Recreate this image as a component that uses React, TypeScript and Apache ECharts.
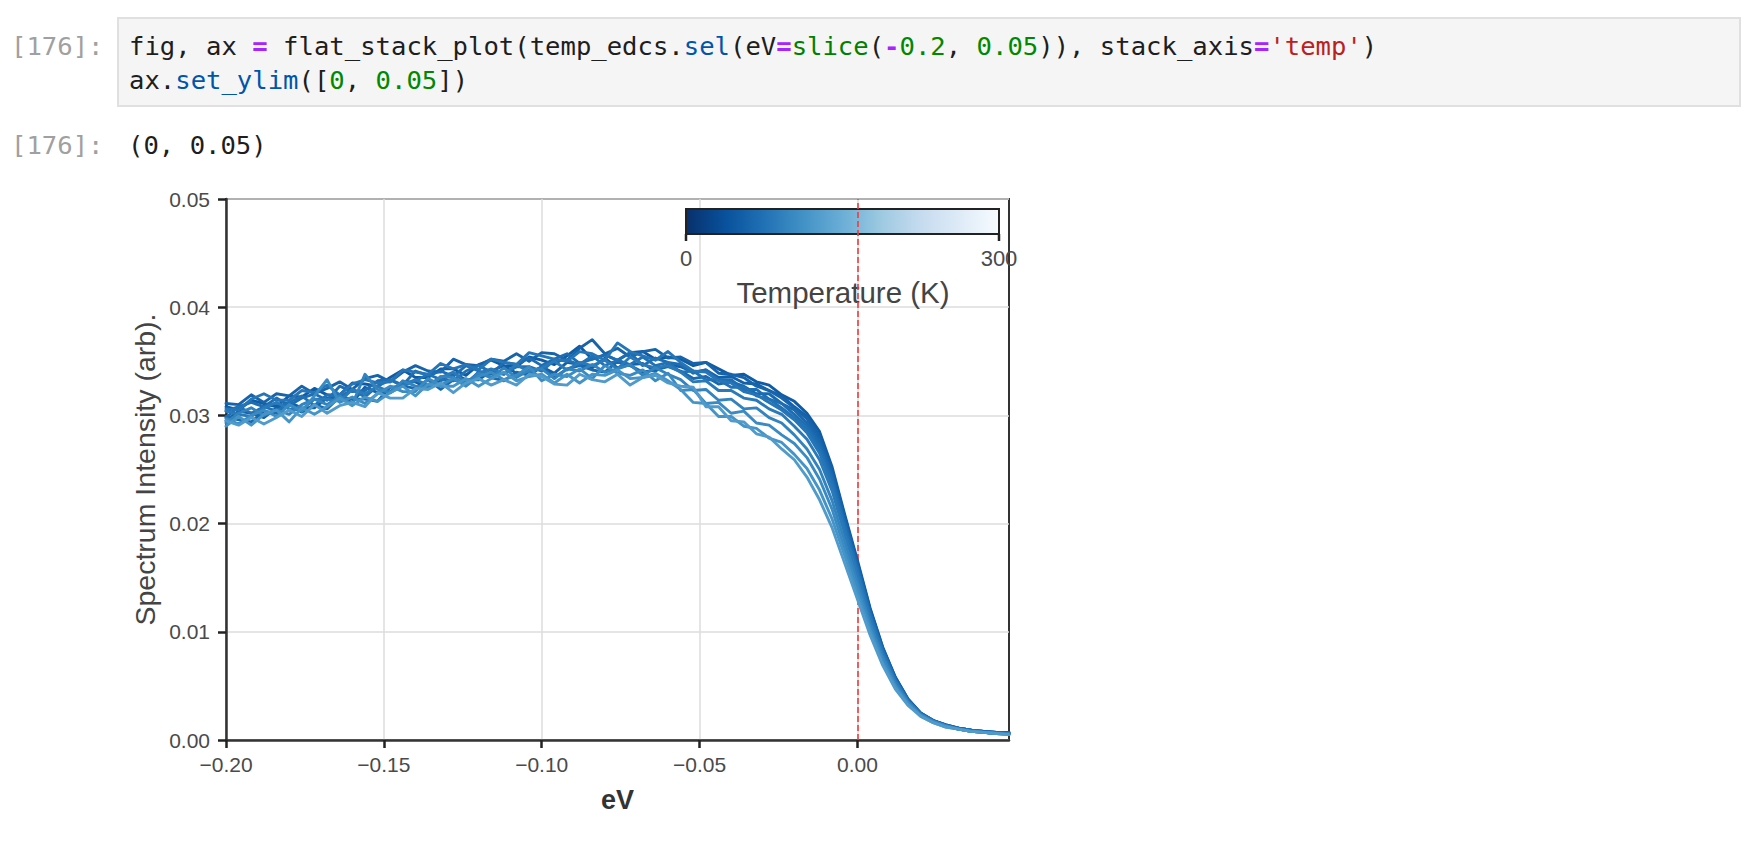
import React, { useEffect, useRef } from "react";
import * as echarts from "echarts";

// ---------- data ----------
const EV = [
  -0.2, -0.196, -0.192, -0.188, -0.184, -0.18, -0.176, -0.172, -0.168, -0.164,
  -0.16, -0.156, -0.152, -0.148, -0.144, -0.14, -0.136, -0.132, -0.128, -0.124,
  -0.12, -0.116, -0.112, -0.108, -0.104, -0.1, -0.096, -0.092, -0.088, -0.084,
  -0.08, -0.076, -0.072, -0.068, -0.064, -0.06, -0.056, -0.052, -0.048, -0.044,
  -0.04, -0.036, -0.032, -0.028, -0.024, -0.02, -0.016, -0.012, -0.008, -0.004,
  0.0, 0.004, 0.008, 0.012, 0.016, 0.02, 0.024, 0.028, 0.032, 0.036,
  0.04, 0.044, 0.048,
];

const TEMPERATURES_K = [50, 55, 60, 65, 70, 75, 80, 85, 95, 105, 115, 125];

const I_50K = [0.0308,0.0305,0.0314,0.0311,0.0308,0.0318,0.0317,0.0325,0.0319,0.0319,
0.0330,0.0329,0.0327,0.0335,0.0342,0.0335,0.0335,0.0343,0.0343,0.0337,
0.0347,0.0351,0.0346,0.0345,0.0354,0.0351,0.0347,0.0355,0.0364,0.0352,
0.0356,0.0351,0.0358,0.0359,0.0352,0.0354,
0.0352,0.0346,0.0349,0.0343,0.0337,0.0338,0.0331,0.0328,0.0319,0.0313,
0.0302,0.0285,0.0252,0.0208,0.0166,0.0122,0.0086,0.0058,0.0038,0.0025,
0.0018,0.0014,0.0011,0.0009,0.0008,0.0007,0.0007];

const I_55K = [0.0295,0.0304,0.0302,0.0298,0.0307,0.0312,0.0307,0.0307,0.0316,0.0316,
0.0312,0.0326,0.0321,0.0322,0.0331,0.0331,0.0325,0.0332,0.0339,0.0333,
0.0333,0.0341,0.0346,0.0339,0.0339,0.0345,0.0339,0.0349,0.0347,0.0344,
0.0353,0.0344,0.0347,0.0348,0.0341,0.0347,
0.0345,0.0340,0.0342,0.0335,0.0336,0.0330,0.0329,0.0323,0.0318,0.0308,
0.0299,0.0281,0.0249,0.0206,0.0164,0.0121,0.0085,0.0058,0.0038,0.0025,
0.0018,0.0014,0.0011,0.0009,0.0008,0.0007,0.0007];

const I_60K = [0.0311,0.0310,0.0319,0.0312,0.0320,0.0318,0.0327,0.0320,0.0325,0.0331,
0.0324,0.0334,0.0337,0.0331,0.0340,0.0346,0.0341,0.0340,0.0352,0.0347,
0.0346,0.0352,0.0350,0.0357,0.0350,0.0358,0.0357,0.0351,0.0362,0.0370,
0.0357,0.0362,0.0354,0.0359,0.0361,0.0353,
0.0354,0.0348,0.0349,0.0339,0.0338,0.0335,0.0327,0.0323,0.0316,0.0307,
0.0297,0.0278,0.0246,0.0203,0.0162,0.0119,0.0084,0.0057,0.0037,0.0025,
0.0018,0.0013,0.0011,0.0009,0.0008,0.0007,0.0006];

const I_65K = [0.0299,0.0296,0.0294,0.0304,0.0302,0.0310,0.0303,0.0310,0.0306,0.0317,
0.0315,0.0315,0.0313,0.0326,0.0327,0.0325,0.0333,0.0324,0.0333,0.0329,
0.0340,0.0335,0.0332,0.0340,0.0337,0.0345,0.0335,0.0343,0.0346,0.0342,
0.0340,0.0350,0.0346,0.0340,0.0342,0.0345,
0.0341,0.0334,0.0336,0.0329,0.0331,0.0327,0.0320,0.0320,0.0311,0.0305,
0.0293,0.0275,0.0244,0.0201,0.0161,0.0118,0.0083,0.0056,0.0037,0.0024,
0.0018,0.0014,0.0011,0.0009,0.0007,0.0007,0.0006];

const I_70K = [0.0298,0.0308,0.0312,0.0308,0.0316,0.0309,0.0316,0.0320,0.0314,0.0327,
0.0322,0.0323,0.0332,0.0333,0.0328,0.0341,0.0337,0.0341,0.0336,0.0346,
0.0341,0.0338,0.0349,0.0347,0.0353,0.0346,0.0352,0.0357,0.0348,0.0352,
0.0356,0.0351,0.0358,0.0346,0.0353,0.0349,
0.0347,0.0339,0.0342,0.0333,0.0333,0.0324,0.0324,0.0315,0.0311,0.0301,
0.0290,0.0272,0.0241,0.0199,0.0159,0.0117,0.0083,0.0056,0.0037,0.0024,
0.0017,0.0013,0.0011,0.0009,0.0008,0.0007,0.0006];

const I_75K = [0.0304,0.0308,0.0302,0.0308,0.0304,0.0312,0.0318,0.0309,0.0319,0.0317,
0.0324,0.0317,0.0327,0.0333,0.0327,0.0332,0.0338,0.0333,0.0332,0.0341,
0.0346,0.0340,0.0338,0.0345,0.0345,0.0341,0.0351,0.0351,0.0347,0.0355,
0.0346,0.0351,0.0347,0.0354,0.0346,0.0349,
0.0340,0.0341,0.0333,0.0333,0.0326,0.0326,0.0318,0.0315,0.0307,0.0298,
0.0287,0.0268,0.0238,0.0197,0.0157,0.0116,0.0082,0.0055,0.0036,0.0024,
0.0018,0.0013,0.0010,0.0009,0.0007,0.0006,0.0006];

const I_80K = [0.0306,0.0305,0.0315,0.0320,0.0314,0.0314,0.0323,0.0321,0.0328,0.0319,
0.0329,0.0333,0.0330,0.0331,0.0342,0.0340,0.0338,0.0348,0.0343,0.0347,
0.0342,0.0352,0.0349,0.0347,0.0358,0.0355,0.0352,0.0350,0.0359,0.0357,
0.0351,0.0367,0.0359,0.0355,0.0351,0.0359,
0.0349,0.0341,0.0340,0.0332,0.0330,0.0322,0.0319,0.0312,0.0305,0.0296,
0.0284,0.0265,0.0235,0.0194,0.0155,0.0114,0.0081,0.0055,0.0036,0.0024,
0.0017,0.0013,0.0010,0.0008,0.0007,0.0006,0.0006];

const I_85K = [0.0304,0.0301,0.0299,0.0307,0.0312,0.0306,0.0305,0.0315,0.0315,0.0313,
0.0324,0.0320,0.0327,0.0321,0.0328,0.0333,0.0328,0.0335,0.0340,0.0330,
0.0339,0.0343,0.0338,0.0347,0.0340,0.0344,0.0350,0.0342,0.0349,0.0346,
0.0351,0.0343,0.0354,0.0347,0.0344,0.0346,
0.0340,0.0331,0.0332,0.0323,0.0323,0.0316,0.0314,0.0306,0.0301,0.0290,
0.0278,0.0259,0.0230,0.0190,0.0152,0.0112,0.0079,0.0054,0.0036,0.0024,
0.0017,0.0013,0.0010,0.0008,0.0007,0.0006,0.0006];

const I_95K = [0.0293,0.0302,0.0307,0.0300,0.0305,0.0301,0.0310,0.0315,0.0310,0.0318,
0.0310,0.0338,0.0324,0.0321,0.0332,0.0327,0.0326,0.0336,0.0335,0.0329,
0.0339,0.0335,0.0344,0.0335,0.0342,0.0343,0.0334,0.0343,0.0341,0.0347,
0.0340,0.0343,0.0347,0.0337,0.0344,0.0338,
0.0333,0.0323,0.0324,0.0314,0.0315,0.0306,0.0307,0.0298,0.0293,0.0282,
0.0269,0.0250,0.0221,0.0183,0.0146,0.0108,0.0077,0.0052,0.0035,0.0023,
0.0017,0.0013,0.0010,0.0008,0.0007,0.0006,0.0006];

const I_105K = [0.0297,0.0292,0.0300,0.0305,0.0299,0.0310,0.0304,0.0318,0.0333,0.0312,
0.0317,0.0311,0.0320,0.0327,0.0322,0.0322,0.0334,0.0328,0.0334,0.0327,
0.0336,0.0340,0.0333,0.0337,0.0345,0.0332,0.0338,0.0336,0.0343,0.0334,
0.0346,0.0339,0.0337,0.0342,0.0332,0.0339,
0.0323,0.0324,0.0311,0.0312,0.0302,0.0304,0.0293,0.0291,0.0282,0.0274,
0.0261,0.0241,0.0213,0.0176,0.0141,0.0104,0.0074,0.0050,0.0034,0.0023,
0.0017,0.0013,0.0010,0.0008,0.0007,0.0006,0.0005];

const I_115K = [0.0290,0.0299,0.0291,0.0301,0.0305,0.0294,0.0307,0.0301,0.0308,0.0316,
0.0309,0.0317,0.0313,0.0321,0.0327,0.0318,0.0329,0.0327,0.0327,0.0334,
0.0327,0.0334,0.0340,0.0332,0.0336,0.0338,0.0330,0.0338,0.0330,0.0338,
0.0337,0.0342,0.0334,0.0335,0.0339,0.0332,
0.0324,0.0312,0.0311,0.0299,0.0299,0.0290,0.0288,0.0279,0.0275,0.0264,
0.0251,0.0231,0.0204,0.0170,0.0135,0.0101,0.0071,0.0049,0.0033,0.0022,
0.0016,0.0012,0.0010,0.0008,0.0007,0.0006,0.0005];

const I_125K = [0.0295,0.0291,0.0298,0.0292,0.0298,0.0305,0.0299,0.0310,0.0302,0.0309,
0.0312,0.0308,0.0321,0.0316,0.0316,0.0325,0.0324,0.0330,0.0321,0.0330,
0.0334,0.0328,0.0333,0.0328,0.0338,0.0336,0.0329,0.0328,0.0338,0.0333,
0.0331,0.0338,0.0328,0.0335,0.0337,0.0330,
0.0327,0.0326,0.0308,0.0308,0.0295,0.0294,0.0283,0.0280,0.0269,0.0259,
0.0243,0.0222,0.0196,0.0163,0.0130,0.0097,0.0069,0.0047,0.0032,0.0022,
0.0016,0.0012,0.0010,0.0008,0.0007,0.0006,0.0005];

const SPECTRA = [I_50K, I_55K, I_60K, I_65K, I_70K, I_75K, I_80K, I_85K, I_95K, I_105K, I_115K, I_125K];

const X_TICKS = [-0.2, -0.15, -0.1, -0.05, 0];
const Y_TICKS = [0, 0.01, 0.02, 0.03, 0.04, 0.05];
const FERMI_LEVEL_EV = 0;
const COLORBAR_MIN_K = 0;
const COLORBAR_MAX_K = 300;
const COLORBAR_TICK_LABELS = ["0", "300"];

// matplotlib "Blues" colormap stops (low -> high)
const BLUES = ["#f7fbff", "#deebf7", "#c6dbef", "#9ecae1", "#6baed6", "#4292c6", "#2171b5", "#08519c", "#08306b"];

type Seg = [string, string];
const CODE_LINES: Seg[][] = [
  [
    ["fig, ax ", "plain"], ["=", "op"], [" flat_stack_plot(temp_edcs.", "plain"], ["sel", "prop"],
    ["(eV", "plain"], ["=", "op"], ["slice", "builtin"], ["(", "plain"], ["-", "op"], ["0.2", "num"],
    [", ", "plain"], ["0.05", "num"], [")), stack_axis", "plain"], ["=", "op"], ["'temp'", "str"], [")", "plain"],
  ],
  [
    ["ax.", "plain"], ["set_ylim", "prop"], ["([", "plain"], ["0", "num"], [", ", "plain"], ["0.05", "num"], ["])", "plain"],
  ],
];
const OUTPUT_TEXT = "(0, 0.05)";
const PROMPT = "[176]:";

// ---------- helpers ----------
function hexToRgb(h: string) {
  const n = parseInt(h.slice(1), 16);
  return [(n >> 16) & 255, (n >> 8) & 255, n & 255];
}
function bluesColor(t: number) {
  const c = Math.min(Math.max(t, 0), 1) * (BLUES.length - 1);
  const i = Math.min(Math.floor(c), BLUES.length - 2);
  const f = c - i;
  const a = hexToRgb(BLUES[i]);
  const b = hexToRgb(BLUES[i + 1]);
  const m = a.map((v, k) => Math.round(v + (b[k] - v) * f));
  return `rgb(${m[0]},${m[1]},${m[2]})`;
}
// reversed Blues over the colorbar range
function tempColor(T: number) {
  return bluesColor(1 - (T - COLORBAR_MIN_K) / (COLORBAR_MAX_K - COLORBAR_MIN_K));
}

const SANS = '"Liberation Sans", Arial, sans-serif';
const MONO = '"DejaVu Sans Mono", monospace';

const SEG_STYLE: Record<string, React.CSSProperties> = {
  plain: { color: "#1e1e1e" },
  op: { color: "#aa22ff", fontWeight: "bold" },
  prop: { color: "#0055aa" },
  builtin: { color: "#008000" },
  num: { color: "#008800" },
  str: { color: "#ba2121" },
};

function fmtX(v: number) {
  if (Math.abs(v) < 1e-9) return "0.00";
  return v.toFixed(2).replace("-", "\u2212");
}

export default function App() {
  const ref = useRef<HTMLDivElement>(null);

  useEffect(() => {
    if (!ref.current) return;
    const chart = echarts.init(ref.current, null, { renderer: "svg" });

    const cbX = 686, cbY = 209, cbW = 313, cbH = 25;
    const gradientStops = BLUES.map((_, j) => ({ offset: j / (BLUES.length - 1), color: BLUES[BLUES.length - 1 - j] }));

    const lineSeries = SPECTRA.map((arr, k) => {
      const color = tempColor(TEMPERATURES_K[k]);
      return {
        type: "line",
        name: `${TEMPERATURES_K[k]} K`,
        data: EV.map((x, i) => [x, arr[i]]),
        showSymbol: false,
        symbol: "none",
        lineStyle: { width: 2.9, color, join: "round", cap: "round" },
        itemStyle: { color },
        z: 3,
        silent: true,
      };
    });

    const option: any = {
      animation: false,
      backgroundColor: "#ffffff",
      textStyle: { fontFamily: SANS },
      grid: {
        left: 226, top: 199, width: 783, height: 541,
        show: true, borderColor: "#333333", borderWidth: 2, backgroundColor: "transparent",
      },
      xAxis: {
        type: "value",
        min: -0.2, max: 0.048, interval: 0.05,
        name: "eV", nameLocation: "middle", nameGap: 46,
        nameTextStyle: { fontSize: 27, fontWeight: "bold", color: "#333333", fontFamily: SANS },
        axisLine: { show: true, onZero: false, lineStyle: { color: "#333333", width: 2.5 } },
        axisTick: { show: true, inside: false, length: 8, customValues: X_TICKS, lineStyle: { color: "#222222", width: 2.5 } },
        axisLabel: {
          customValues: X_TICKS,
          formatter: (v: number) => fmtX(v),
          fontSize: 21, color: "#4a4a4a", margin: 14, fontFamily: SANS,
        },
        splitLine: { show: true, lineStyle: { color: "#dcdcdc", width: 1.5 } },
      },
      yAxis: {
        type: "value",
        min: 0, max: 0.05, interval: 0.01,
        name: "Spectrum Intensity (arb).", nameLocation: "middle", nameGap: 67,
        nameTextStyle: { fontSize: 28.5, color: "#444444", fontFamily: SANS },
        axisLine: { show: true, onZero: false, lineStyle: { color: "#333333", width: 2.5 } },
        axisTick: { show: true, inside: false, length: 8, customValues: Y_TICKS, lineStyle: { color: "#222222", width: 2.5 } },
        axisLabel: {
          customValues: Y_TICKS,
          formatter: (v: number) => v.toFixed(2),
          fontSize: 21, color: "#4a4a4a", margin: 16, fontFamily: SANS,
        },
        splitLine: { show: true, lineStyle: { color: "#dcdcdc", width: 1.5 } },
      },
      graphic: [
        {
          type: "rect", z: 1, silent: true,
          shape: { x: cbX, y: cbY, width: cbW, height: cbH },
          style: {
            fill: { type: "linear", x: 0, y: 0, x2: 1, y2: 0, colorStops: gradientStops },
            stroke: "#222222", lineWidth: 2,
          },
        },
        { type: "line", z: 1, silent: true, shape: { x1: cbX, y1: cbY + cbH, x2: cbX, y2: cbY + cbH + 7 }, style: { stroke: "#222222", lineWidth: 2.5 } },
        { type: "line", z: 1, silent: true, shape: { x1: cbX + cbW, y1: cbY + cbH, x2: cbX + cbW, y2: cbY + cbH + 7 }, style: { stroke: "#222222", lineWidth: 2.5 } },
        {
          type: "text", z: 1, silent: true, x: cbX, y: 258,
          style: { text: COLORBAR_TICK_LABELS[0], align: "center", verticalAlign: "middle", fontSize: 22, fill: "#4a4a4a", fontFamily: SANS },
        },
        {
          type: "text", z: 1, silent: true, x: cbX + cbW, y: 258,
          style: { text: COLORBAR_TICK_LABELS[1], align: "center", verticalAlign: "middle", fontSize: 22, fill: "#4a4a4a", fontFamily: SANS },
        },
        {
          type: "text", z: 1, silent: true, x: 843, y: 292,
          style: { text: "Temperature (K)", align: "center", verticalAlign: "middle", fontSize: 29.5, fill: "#444444", fontFamily: SANS },
        },
      ],
      series: [
        {
          type: "line",
          name: "E_F",
          data: [],
          z: 2,
          silent: true,
          markLine: {
            z: 2,
            silent: true,
            symbol: ["none", "none"],
            label: { show: false },
            lineStyle: { color: "#f23b3b", type: [6, 3], width: 1.6 },
            data: [{ xAxis: FERMI_LEVEL_EV }],
          },
        },
        ...lineSeries,
      ],
    };

    chart.setOption(option);
    return () => chart.dispose();
  }, []);

  const monoText: React.CSSProperties = {
    position: "absolute", margin: 0, fontFamily: MONO, fontSize: 25.6, lineHeight: "34px", whiteSpace: "pre",
  };

  return (
    <div style={{ position: "fixed", left: 0, top: 0, width: 1754, height: 850, background: "#ffffff", overflow: "hidden" }}>
      <div ref={ref} style={{ position: "absolute", left: 0, top: 0, width: 1754, height: 850 }} />
      <div
        style={{
          position: "absolute", left: 117, top: 17, width: 1624, height: 90,
          background: "#f5f5f5", border: "2px solid #e0e0e0", boxSizing: "border-box",
        }}
      />
      <div style={{ ...monoText, left: 11, top: 29, color: "#a0a0a0" }}>{PROMPT}</div>
      <div style={{ ...monoText, left: 129, top: 29 }}>
        {CODE_LINES.map((line, li) => (
          <div key={li}>
            {line.map(([t, k], si) => (
              <span key={si} style={SEG_STYLE[k]}>{t}</span>
            ))}
          </div>
        ))}
      </div>
      <div style={{ ...monoText, left: 11, top: 128, color: "#a0a0a0" }}>{PROMPT}</div>
      <div style={{ ...monoText, left: 128, top: 128, color: "#1e1e1e" }}>{OUTPUT_TEXT}</div>
    </div>
  );
}
